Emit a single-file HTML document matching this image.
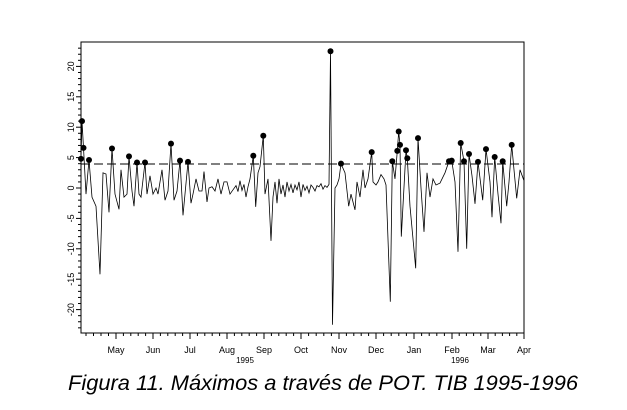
<!DOCTYPE html>
<html><head><meta charset="utf-8"><style>
html,body{margin:0;padding:0;background:#fff;}
svg{display:block;font-family:"Liberation Sans",Arial,sans-serif;}
</style></head><body>
<svg id="s" width="627" height="410" xmlns="http://www.w3.org/2000/svg">
<rect x="81" y="42" width="443" height="291" fill="none" stroke="#000" stroke-width="1"/>
<line x1="81" y1="164" x2="524" y2="164" stroke="#000" stroke-dasharray="9,4" stroke-width="1"/>
<g id="ax" stroke="#000" stroke-width="1"></g>
<g font-size="9" fill="#000" text-anchor="middle">
<text x="116" y="353">May</text><text x="153" y="353">Jun</text><text x="190" y="353">Jul</text>
<text x="227" y="353">Aug</text><text x="264" y="353">Sep</text><text x="301" y="353">Oct</text>
<text x="339" y="353">Nov</text><text x="376" y="353">Dec</text><text x="414" y="353">Jan</text>
<text x="452" y="353">Feb</text><text x="488" y="353">Mar</text><text x="524" y="353">Apr</text>
<text x="245" y="363" font-size="8">1995</text><text x="460" y="363" font-size="8">1996</text>
</g>
<g font-size="9" fill="#000" text-anchor="middle" id="yl"></g>
<polyline id="ln" fill="none" stroke="#000" stroke-width="0.8" points=""/>
<g id="dots" fill="#000"></g>
<text x="68" y="390" font-size="21" font-style="italic" fill="#000" textLength="510" lengthAdjust="spacingAndGlyphs">Figura 11. Máximos a través de POT. TIB 1995-1996</text>
</svg>
<script>
var Y=function(v){return 188-v*6.08;};
var NS="http://www.w3.org/2000/svg";
var ax=document.getElementById('ax'),yl=document.getElementById('yl');
function L(x1,y1,x2,y2){var l=document.createElementNS(NS,'line');l.setAttribute('x1',x1);l.setAttribute('y1',y1);l.setAttribute('x2',x2);l.setAttribute('y2',y2);ax.appendChild(l);}
for(var v=-23;v<=23;v++){var y=Y(v);L(81,y,v%5==0?76:78,y);}
for(var v=-20;v<=20;v+=5){var t=document.createElementNS(NS,'text');t.setAttribute('transform','translate(71,'+Y(v)+') rotate(-90)');t.setAttribute('y','3');t.textContent=v;yl.appendChild(t);}
var months=[78.5,116,153,190,227,264,301,339,376,414,452,488,524];
for(var i=0;i<months.length-1;i++){var a=months[i],b=months[i+1];for(var k=0;k<5;k++){var x=a+(b-a)*k/5;if(x<81)continue;L(x,333,x,k==0?339:336);}}
L(524,333,524,339);
var d=[[81,4.8,1],[82,11,1],[83.5,6.6,1],[86,-1],[89,4.6,1],[92,-1.5],[96,-3],[100,-14.2],[103,2.5],[106,2.3],[109,-4],[112,6.5,1],[115,-1],[119,-3.5],[121,3],[124,-1.5],[127,-1],[129,5.2,1],[132,-0.5],[134,-3],[137,4.2,1],[139,-1],[141,-1.5],[145,4.2,1],[147,-1],[150,2],[153,-1],[156,0],[158,-1],[162,3],[165,-2],[168,-0.5],[171,7.3,1],[174,-2],[177,-0.5],[180,4.5,1],[183,-4.5],[188,4.3,1],[191,-2.5],[193,-1],[196,1.5],[199,-0.5],[202,-0.5],[204,2.7],[207,-2.3],[209,0],[212,0.2],[215,-0.5],[218,1.5],[221,-1],[224,1],[227,1],[230,-1],[233,-0.3],[236,0.4],[238,-0.6],[240,1.2],[242,-0.4],[244,0.6],[246,-1.5],[248,0.2],[250,1.5],[253.3,5.3,1],[255.7,-3.1],[258,2.5],[260,3.5],[263.3,8.6,1],[265,-1],[268,1.5],[271,-8.7],[273,-1.5],[275,1],[277,-2.5],[279,1.5],[281,-1],[283,0.5],[285,-1.5],[287,1],[289,-0.5],[291,0.6],[293,-0.8],[295,0.5],[297,-0.3],[299,1],[301,-1.5],[303,0.6],[305,-0.4],[307,0.3],[309,-0.8],[311,0.5],[313,0.1],[315,-0.5],[317,0.4],[319,0.2],[321,0.7],[323,-0.2],[325,0.4],[327,0.1],[329,0.6],[330.5,22.5,1],[332.5,-22.5],[335,0],[337,0.5],[339,1.5],[341,4,1],[345,2.5],[348.7,-3],[351,-1],[355,-3.6],[357,1],[360,-1.5],[363,3],[365,0],[368,1.5],[371.7,5.9,1],[373,1],[376,0.5],[378,1],[381,2.2],[384,1.5],[386,0.5],[390.3,-18.7],[392.3,4.4,1],[395,1.5],[397.3,6.1,1],[398.7,9.3,1],[400,7.1,1],[401.3,-8],[406,6.2,1],[407.3,4.9,1],[410,-3],[415.7,-13.2],[418,8.2,1],[421,0],[424,-7.2],[427,2.5],[430,-1.5],[433,1.5],[436,0.5],[440,0.8],[445,2.5],[449,4.4,1],[451.7,4.5,1],[455,1],[458,-10.5],[460.7,7.4,1],[464,4.4,1],[466.7,-10],[469,5.6,1],[472,2],[475,-2.6],[478,4.3,1],[482.7,-2],[486,6.4,1],[490,1],[492,-4.8],[494.7,5.1,1],[498,-1],[501,-5.8],[502.7,4.4,1],[506.7,-3],[509,1],[511.7,7.1,1],[514,3],[516.7,-1.7],[520,3],[524,1.2]];
var pts=[],g=document.getElementById('dots');
d.forEach(function(p){var y=Y(p[1]);pts.push(p[0]+','+y.toFixed(1));if(p[2]){var c=document.createElementNS(NS,'circle');c.setAttribute('cx',p[0]);c.setAttribute('cy',y);c.setAttribute('r','3');g.appendChild(c);}});
document.getElementById('ln').setAttribute('points',pts.join(' '));
</script>
</body></html>
